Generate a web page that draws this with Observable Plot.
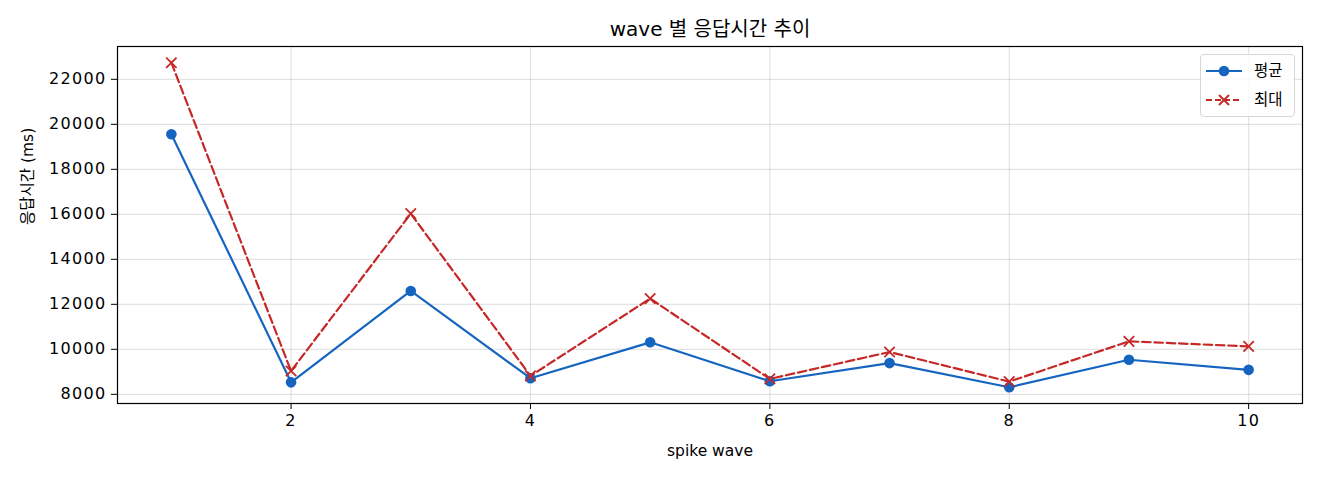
<!DOCTYPE html>
<html>
<head>
<meta charset="utf-8">
<script src="https://cdn.jsdelivr.net/npm/d3@7"></script>
<script src="https://cdn.jsdelivr.net/npm/@observablehq/plot@0.6"></script>
<style>
  html, body { margin: 0; padding: 0; background: #fff; }
  #wrap { position: relative; width: 1320px; height: 480px; font-family: "DejaVu Sans", "Noto Sans CJK KR", sans-serif; }
  #legend { position: absolute; left: 1200px; top: 54px; width: 93px; height: 61px; border: 1px solid #d6d6d6; border-radius: 4px; background: rgba(255,255,255,0.85); }
  #legend svg { display: block; }
  g[aria-label="y-axis tick label"] text, g[aria-label="x-axis tick label"] text { letter-spacing: 1.3px; }
</style>
</head>
<body>
<div id="wrap"></div>
<script>
const waves = [1, 2, 3, 4, 5, 6, 7, 8, 9, 10];
const meanMs = [19556, 8533, 12593, 8716, 10311, 8582, 9388, 8313, 9536, 9088];
const maxMs  = [22738, 9036, 16031, 8820, 12254, 8685, 9881, 8564, 10355, 10131];
const xTicks = [2, 4, 6, 8, 10];
const yTicks = [8000, 10000, 12000, 14000, 16000, 18000, 20000, 22000];
const seriesNames = ["평균", "최대"];
const titleText = "wave 별 응답시간 추이";
const xLabel = "spike wave";
const yLabel = "응답시간 (ms)";

const blue = "#1565c0";
const red = "#c62828";
const font = "\"DejaVu Sans\", \"Noto Sans CJK KR\", sans-serif";

const rows = waves.map((w, i) => ({wave: w, mean: meanMs[i], max: maxMs[i]}));

const chart = Plot.plot({
  width: 1320,
  height: 480,
  marginLeft: 117,
  marginRight: 18,
  marginTop: 46,
  marginBottom: 77,
  style: {fontFamily: font, fontSize: "15.5px", color: "#000", background: "#fff"},
  x: {domain: [0.55, 10.45]},
  y: {domain: [7592, 23459]},
  marks: [
    Plot.gridX(xTicks, {stroke: "#b0b0b0", strokeOpacity: 0.35, strokeWidth: 1.2}),
    Plot.gridY(yTicks, {stroke: "#b0b0b0", strokeOpacity: 0.35, strokeWidth: 1.2}),
    Plot.axisX(xTicks, {tickSize: 6, tickPadding: 5, label: null, fontSize: 16, tickFormat: d => String(d)}),
    Plot.axisY(yTicks, {tickSize: 6, tickPadding: 5, label: null, fontSize: 16, tickFormat: d => String(d)}),
    Plot.line(rows, {x: "wave", y: "mean", stroke: blue, strokeWidth: 2.2}),
    Plot.dot(rows, {x: "wave", y: "mean", r: 5.3, fill: blue, stroke: null}),
    Plot.line(rows, {x: "wave", y: "max", stroke: red, strokeWidth: 2.2, strokeDasharray: "8.5,3.8"}),
    Plot.dot(rows, {x: "wave", y: "max", symbol: "times", r: 4.8, stroke: red, strokeWidth: 1.8}),
    Plot.frame({stroke: "#000", strokeWidth: 1.2}),
    Plot.text([titleText], {frameAnchor: "top", lineAnchor: "middle", dy: -17, fontSize: 20, fill: "#000"}),
    Plot.text([xLabel], {frameAnchor: "bottom", lineAnchor: "middle", dy: 48, fontSize: 15.5, fill: "#000"}),
    Plot.text([yLabel], {frameAnchor: "left", lineAnchor: "middle", dx: -89, rotate: -90, fontSize: 15.5, fill: "#000"})
  ]
});

const wrap = document.getElementById("wrap");
wrap.appendChild(chart);

// legend
const legend = document.createElement("div");
legend.id = "legend";
const ns = "http://www.w3.org/2000/svg";
const lsvg = document.createElementNS(ns, "svg");
lsvg.setAttribute("width", "93");
lsvg.setAttribute("height", "61");
const entries = [
  {name: seriesNames[0], color: blue, dash: null, marker: "dot", y: 16},
  {name: seriesNames[1], color: red, dash: "6,3", marker: "x", y: 45}
];
for (const e of entries) {
  const ln = document.createElementNS(ns, "line");
  ln.setAttribute("x1", 5); ln.setAttribute("x2", 41);
  ln.setAttribute("y1", e.y); ln.setAttribute("y2", e.y);
  ln.setAttribute("stroke", e.color); ln.setAttribute("stroke-width", 2.2);
  if (e.dash) ln.setAttribute("stroke-dasharray", e.dash);
  lsvg.appendChild(ln);
  if (e.marker === "dot") {
    const c = document.createElementNS(ns, "circle");
    c.setAttribute("cx", 23); c.setAttribute("cy", e.y); c.setAttribute("r", 5.3);
    c.setAttribute("fill", e.color);
    lsvg.appendChild(c);
  } else {
    const p = document.createElementNS(ns, "path");
    p.setAttribute("d", `M18,${e.y-5}L28,${e.y+5}M18,${e.y+5}L28,${e.y-5}`);
    p.setAttribute("stroke", e.color); p.setAttribute("stroke-width", 1.8);
    lsvg.appendChild(p);
  }
  const t = document.createElementNS(ns, "text");
  t.setAttribute("x", 53); t.setAttribute("y", e.y);
  t.setAttribute("dominant-baseline", "central");
  t.setAttribute("font-size", "15.5px");
  t.setAttribute("font-family", font);
  t.textContent = e.name;
  lsvg.appendChild(t);
}
legend.appendChild(lsvg);
wrap.appendChild(legend);
</script>
</body>
</html>
